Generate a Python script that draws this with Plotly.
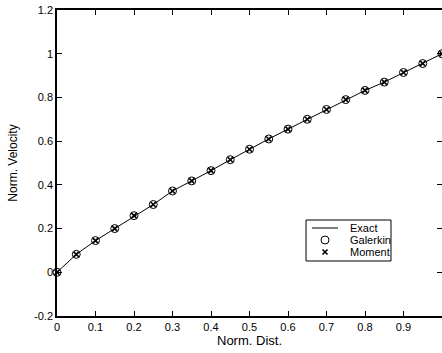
import plotly.graph_objects as go

# Data
x_pts = [0.0, 0.05, 0.10, 0.15, 0.20, 0.25, 0.30, 0.35, 0.40, 0.45, 0.50,
         0.55, 0.60, 0.65, 0.70, 0.75, 0.80, 0.85, 0.90, 0.95, 1.0]
exact_y = [0.0, 0.082, 0.145, 0.200, 0.259, 0.310, 0.372, 0.418, 0.465, 0.515, 0.563,
           0.610, 0.655, 0.700, 0.745, 0.790, 0.832, 0.870, 0.914, 0.955, 1.0]
galerkin_y = [0.0, 0.082, 0.145, 0.200, 0.259, 0.310, 0.372, 0.418, 0.465, 0.515, 0.563,
              0.610, 0.655, 0.700, 0.745, 0.790, 0.832, 0.870, 0.914, 0.955, 1.0]
moment_y = [0.0, 0.082, 0.145, 0.200, 0.259, 0.310, 0.372, 0.418, 0.465, 0.515, 0.563,
            0.610, 0.655, 0.700, 0.745, 0.790, 0.832, 0.870, 0.914, 0.955, 1.0]

x_ticks = [0, 0.1, 0.2, 0.3, 0.4, 0.5, 0.6, 0.7, 0.8, 0.9, 1.0]
x_ticktext = ["0", "0.1", "0.2", "0.3", "0.4", "0.5", "0.6", "0.7", "0.8", "0.9", ""]
y_ticks = [-0.2, 0, 0.2, 0.4, 0.6, 0.8, 1.0, 1.2]
y_ticktext = ["-0.2", "0", "0.2", "0.4", "0.6", "0.8", "1", "1.2"]
legend_names = ["Exact", "Galerkin", "Moment"]

FONT = "Liberation Sans, Arial, sans-serif"

fig = go.Figure()
fig.add_trace(go.Scatter(x=x_pts, y=exact_y, mode="lines", name="Exact",
                         line=dict(color="black", width=1), showlegend=False))
fig.add_trace(go.Scatter(x=x_pts, y=galerkin_y, mode="markers", name="Galerkin",
                         marker=dict(symbol="circle-open", size=8, color="black",
                                     line=dict(width=1, color="black")),
                         showlegend=False, cliponaxis=False))
fig.add_trace(go.Scatter(x=x_pts, y=moment_y, mode="markers", name="Moment",
                         marker=dict(symbol="x-thin", size=5, color="black",
                                     line=dict(width=1.6, color="black")),
                         showlegend=False, cliponaxis=False))

# Compact legend (MATLAB style) drawn in paper-space overlay axes
lx0, lx1, ly0, ly1 = 0.6468, 0.8675, 0.1797, 0.3137
entry_y = [0.2876, 0.2484, 0.2092]
mark_x = 0.6961
text_x = 0.7558

fig.add_trace(go.Scatter(x=[mark_x], y=[entry_y[1]], xaxis="x2", yaxis="y2", mode="markers",
                         marker=dict(symbol="circle-open", size=8, color="black",
                                     line=dict(width=1, color="black")),
                         showlegend=False, hoverinfo="skip", cliponaxis=False))
fig.add_trace(go.Scatter(x=[mark_x], y=[entry_y[2]], xaxis="x2", yaxis="y2", mode="markers",
                         marker=dict(symbol="x-thin", size=5, color="black",
                                     line=dict(width=1.6, color="black")),
                         showlegend=False, hoverinfo="skip", cliponaxis=False))

shapes = [
    dict(type="rect", xref="paper", yref="paper", x0=lx0, x1=lx1, y0=ly0, y1=ly1,
         line=dict(color="black", width=1), fillcolor="white", layer="below"),
    dict(type="line", xref="paper", yref="paper", x0=0.6623, x1=0.7299,
         y0=entry_y[0], y1=entry_y[0], line=dict(color="black", width=1)),
]
annotations = []
for name, yy in zip(legend_names, entry_y):
    annotations.append(dict(x=text_x, y=yy, xref="paper", yref="paper", text=name,
                            showarrow=False, xanchor="left", yanchor="middle",
                            font=dict(family=FONT, size=11, color="black")))

fig.update_layout(
    width=442, height=353,
    margin=dict(l=57, r=0, t=10, b=37, autoexpand=False),
    paper_bgcolor="white", plot_bgcolor="white",
    font=dict(family=FONT, size=11, color="black"),
    shapes=shapes, annotations=annotations,
    xaxis=dict(range=[0, 1], tickvals=x_ticks, ticktext=x_ticktext,
               ticks="inside", ticklen=5, tickwidth=1, tickcolor="black",
               showline=True, linecolor="black", linewidth=1.5, mirror="ticks",
               showgrid=False, zeroline=False, automargin=False,
               title=dict(text="Norm. Dist.", standoff=2, font=dict(size=13)),
               tickfont=dict(size=11)),
    yaxis=dict(range=[-0.2, 1.2], tickvals=y_ticks, ticktext=y_ticktext,
               ticks="inside", ticklen=5, tickwidth=1, tickcolor="black",
               showline=True, linecolor="black", linewidth=1.5, mirror="ticks",
               showgrid=False, zeroline=False, automargin=False,
               title=dict(text="Norm. Velocity", standoff=14, font=dict(size=12)),
               tickfont=dict(size=11)),
    xaxis2=dict(range=[0, 1], overlaying="x", visible=False, fixedrange=True),
    yaxis2=dict(range=[0, 1], overlaying="y", visible=False, fixedrange=True),
)

fig.write_html("out.html", config={"displayModeBar": False},
               post_script="document.body.style.margin='0';document.body.style.padding='0';")
